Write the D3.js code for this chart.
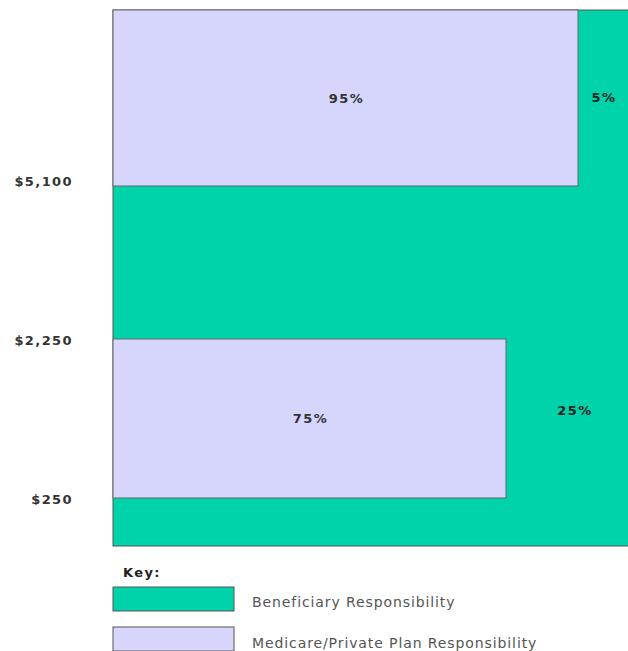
<!DOCTYPE html>
<html><head><meta charset="utf-8">
<script src="https://cdn.jsdelivr.net/npm/d3@7"></script>
<style>body{margin:0;background:#fff}svg{display:block}</style>
</head><body>
<script>
// Data
const thresholds = [250, 2250, 5100];          // dollar thresholds (tick values)
const tickLabels = ["$250", "$2,250", "$5,100"];
const bands = [                                  // coverage phases
  {name: "Initial coverage", from: 250, to: 2250, plan: 75, beneficiary: 25},
  {name: "Catastrophic", from: 5100, to: 7000, plan: 95, beneficiary: 5}
];
const legendLabels = ["Beneficiary Responsibility", "Medicare/Private Plan Responsibility"];
const legendColors = ["#00D2AA", "#D6D6FC"];

const W = 628, H = 651;
const svg = d3.select("body").append("svg").attr("width", W).attr("height", H);

// schematic (polylinear) scales
const y = d3.scaleLinear().domain([0, 250, 2250, 5100, 7000]).range([546, 498, 339, 186, 10]);
const x = d3.scaleLinear().domain([0, 75, 95, 100]).range([113, 506, 578, 628]);

// beneficiary background
svg.append("rect").attr("x", x(0)).attr("y", y(7000)).attr("width", x(100) - x(0) + 2)
  .attr("height", y(0) - y(7000)).attr("fill", legendColors[0]).attr("stroke", "#555").attr("stroke-width", 1);

// plan responsibility rects
svg.selectAll("rect.plan").data(bands).enter().append("rect").attr("class", "plan")
  .attr("x", x(0)).attr("y", d => y(d.to)).attr("width", d => x(d.plan) - x(0))
  .attr("height", d => y(d.from) - y(d.to))
  .attr("fill", legendColors[1]).attr("stroke", "#666").attr("stroke-width", 1);

const lblFont = "DejaVu Sans, Verdana, sans-serif";
function boldStyle(sel) {
  sel.attr("font-family", lblFont).attr("font-weight", "bold").attr("font-size", 13)
    .attr("letter-spacing", 1.4).attr("fill", "#333");
}
// plan % labels
svg.selectAll("text.planlbl").data(bands).enter().append("text")
  .attr("x", d => (x(0) + x(d.plan)) / 2 + 1)
  .attr("y", d => (y(d.from) + y(d.to)) / 2 + 1)
  .attr("text-anchor", "middle").attr("dominant-baseline", "middle")
  .call(boldStyle)
  .text(d => d.plan + "%");

// beneficiary % labels
svg.selectAll("text.benlbl").data(bands).enter().append("text")
  .attr("x", d => (x(d.plan) + x(100)) / 2 + (d.plan === 75 ? 8 : 1))
  .attr("y", d => (y(d.from) + y(d.to)) / 2 + (d.plan === 75 ? -7 : 0))
  .attr("text-anchor", "middle").attr("dominant-baseline", "middle")
  .call(boldStyle).attr("fill", "#222")
  .text(d => d.beneficiary + "%");

// y axis labels
const axis = d3.axisLeft(y).tickValues(thresholds).tickSize(0).tickPadding(0)
  .tickFormat((d, i) => tickLabels[i]);
const ag = svg.append("g").attr("transform", "translate(73,0)").call(axis);
ag.select(".domain").remove();
ag.selectAll("text").call(boldStyle).attr("dy", d => d === 5100 ? "-0.05em" : "0.4em");

// legend
svg.append("text").attr("x", 123).attr("y", 577).call(boldStyle).attr("fill", "#222").text("Key:");
const lg = svg.selectAll("g.leg").data(legendLabels).enter().append("g")
  .attr("transform", (d, i) => `translate(113,${587 + i * 40})`);
lg.append("rect").attr("width", 121).attr("height", 24)
  .attr("fill", (d, i) => legendColors[i]).attr("stroke", "#555").attr("stroke-width", 1);
lg.append("text").attr("x", 139).attr("y", (d, i) => i === 0 ? 16 : 17).attr("dominant-baseline", "middle")
  .attr("font-family", lblFont).attr("font-size", 14).attr("letter-spacing", 0.9)
  .attr("fill", "#555").text(d => d);
</script>
</body></html>
